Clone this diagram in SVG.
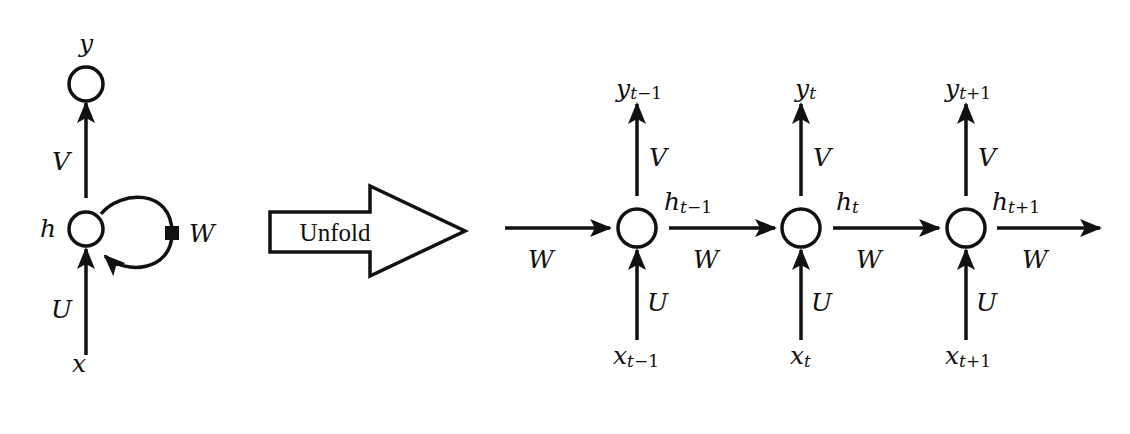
<svg xmlns="http://www.w3.org/2000/svg" width="1130" height="434" viewBox="0 0 1130 434">
<defs>
<marker id="ahb" markerWidth="22" markerHeight="20" refX="20" refY="10" orient="auto" markerUnits="userSpaceOnUse" viewBox="0 0 22 20">
<path d="M0,1 L22,10 L0,19 L5,10 Z" fill="#111"/>
</marker>
</defs>
<style>
.n{fill:#fff;stroke:#111;stroke-width:3.5}
.e{stroke:#111;stroke-width:3.5;fill:none;marker-end:url(#ahb)}
.m{font-family:"DejaVu Serif",serif;font-style:italic;font-size:25px;fill:#111}
.s{font-size:17px}
.r{font-style:normal}
</style>
<rect width="1130" height="434" fill="#fff"/>
<g id="connectors">
<line class="e" x1="86" y1="198" x2="86" y2="103"/>
<line class="e" x1="86" y1="355" x2="86" y2="249"/>
<path class="e" d="M101,214 C120,190 172,188 172,233 C172,272 125,275 105,256"/>
<line class="e" x1="637" y1="196" x2="637" y2="104"/>
<line class="e" x1="801" y1="196" x2="801" y2="104"/>
<line class="e" x1="966" y1="196" x2="966" y2="104"/>
<line class="e" x1="637" y1="340" x2="637" y2="250"/>
<line class="e" x1="801" y1="340" x2="801" y2="250"/>
<line class="e" x1="966" y1="340" x2="966" y2="250"/>
<line class="e" x1="505" y1="228" x2="610" y2="228"/>
<line class="e" x1="669" y1="228" x2="775" y2="228"/>
<line class="e" x1="833" y1="228" x2="939" y2="228"/>
<line class="e" x1="997" y1="228" x2="1100" y2="228"/>
</g>
<g id="fold">
<circle id="y" class="n" cx="86" cy="84" r="17"/>
<circle id="h" class="n" cx="86" cy="229" r="17"/>
<rect x="165" y="226" width="14" height="14" fill="#111"/>
<text class="m" x="79" y="52">y</text>
<text class="m" x="52" y="170">V</text>
<text class="m" x="40" y="237">h</text>
<text class="m" x="189" y="242">W</text>
<text class="m" x="51" y="318">U</text>
<text class="m" x="72" y="372">x</text>
</g>
<g id="unfold">
<path d="M270,212 L370,212 L370,186 L465,231 L370,276 L370,252 L270,252 Z" fill="#fff" stroke="#111" stroke-width="3.5"/>
<text x="335" y="241" text-anchor="middle" font-family="Liberation Serif, DejaVu Serif, serif" font-size="25" fill="#111">Unfold</text>
</g>
<g id="t1">
<circle class="n" cx="637" cy="228" r="19"/>
<text class="m" x="616" y="97">y<tspan class="s" dy="2">t</tspan><tspan class="s r">−1</tspan></text>
<text class="m" x="649" y="166">V</text>
<text class="m" x="664" y="210">h<tspan class="s" dy="3">t</tspan><tspan class="s r">−1</tspan></text>
<text class="m" x="647" y="311">U</text>
<text class="m" x="613" y="364">x<tspan class="s" dy="3">t</tspan><tspan class="s r">−1</tspan></text>
</g>
<g id="t2">
<circle class="n" cx="801" cy="228" r="19"/>
<text class="m" x="795" y="97">y<tspan class="s" dy="2">t</tspan></text>
<text class="m" x="813" y="166">V</text>
<text class="m" x="836" y="210">h<tspan class="s" dy="3">t</tspan></text>
<text class="m" x="811" y="311">U</text>
<text class="m" x="790" y="364">x<tspan class="s" dy="3">t</tspan></text>
</g>
<g id="t3">
<circle class="n" cx="966" cy="228" r="19"/>
<text class="m" x="945" y="97">y<tspan class="s" dy="2">t</tspan><tspan class="s r">+1</tspan></text>
<text class="m" x="978" y="166">V</text>
<text class="m" x="992" y="210">h<tspan class="s" dy="3">t</tspan><tspan class="s r">+1</tspan></text>
<text class="m" x="976" y="311">U</text>
<text class="m" x="945" y="364">x<tspan class="s" dy="3">t</tspan><tspan class="s r">+1</tspan></text>
</g>
<g id="wlabels">
<text class="m" x="528" y="268">W</text>
<text class="m" x="693" y="268">W</text>
<text class="m" x="856" y="268">W</text>
<text class="m" x="1022" y="268">W</text>
</g>
</svg>
